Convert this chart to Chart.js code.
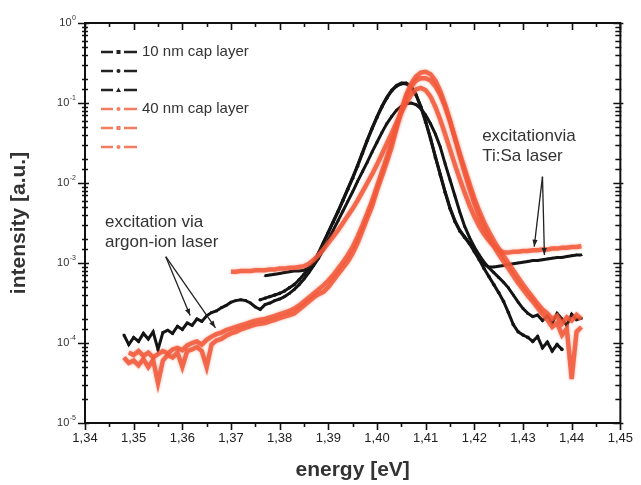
<!DOCTYPE html>
<html>
<head>
<meta charset="utf-8">
<script src="https://cdn.jsdelivr.net/npm/chart.js@4.4.0/dist/chart.umd.min.js"></script>
<style>
  html, body { margin: 0; background: #fff; }
</style>
</head>
<body>
<canvas id="pl" width="641" height="485"></canvas>
<script>
// photon energy grid (eV)
var energy = [1.348, 1.349,
  1.350, 1.351, 1.352, 1.353, 1.354, 1.355, 1.356, 1.357, 1.358, 1.359,
  1.360, 1.361, 1.362, 1.363, 1.364, 1.365, 1.366, 1.367, 1.368, 1.369,
  1.370, 1.371, 1.372, 1.373, 1.374, 1.375, 1.376, 1.377, 1.378, 1.379,
  1.380, 1.381, 1.382, 1.383, 1.384, 1.385, 1.386, 1.387, 1.388, 1.389,
  1.390, 1.391, 1.392, 1.393, 1.394, 1.395, 1.396, 1.397, 1.398, 1.399,
  1.400, 1.401, 1.402, 1.403, 1.404, 1.405, 1.406, 1.407, 1.408, 1.409,
  1.410, 1.411, 1.412, 1.413, 1.414, 1.415, 1.416, 1.417, 1.418, 1.419,
  1.420, 1.421, 1.422, 1.423, 1.424, 1.425, 1.426, 1.427, 1.428, 1.429,
  1.430, 1.431, 1.432, 1.433, 1.434, 1.435, 1.436, 1.437, 1.438, 1.439,
  1.440, 1.441, 1.442];

// log10 of the PL intensity on that grid, null = not measured
var cap10a = [-3.90, -4.02,
  -3.93, -3.98, -3.88, -3.95, -3.86, -4.08, -3.87, -3.84, -3.88, -3.79,
  -3.83, -3.75, -3.78, -3.70, -3.73, -3.66, -3.62, -3.60, -3.56, -3.53,
  -3.49, -3.47, -3.46, -3.47, -3.50, -3.55, -3.58, -3.52, -3.50, -3.47,
  -3.45, -3.42, -3.38, -3.33, -3.27, -3.20, -3.12, -3.03, -2.94, -2.83,
  -2.71, -2.59, -2.47, -2.35, -2.23, -2.11, -1.98, -1.86, -1.74, -1.61,
  -1.49, -1.37, -1.26, -1.17, -1.09, -1.04, -1.01, -1.00, -1.02, -1.07,
  -1.15, -1.26, -1.39, -1.55, -1.76, -1.96, -2.16, -2.36, -2.54, -2.68,
  -2.80, -2.90, -2.99, -3.06, -3.12, -3.18, -3.24, -3.31, -3.40, -3.49,
  -3.57, -3.63, -3.67, -3.65, -3.72, -3.66, -3.75, -3.63, -3.70, -3.78,
  -3.64, -3.71, -3.69];

var cap10b = [null, null,
  null, null, null, null, null, null, null, null, null, null,
  null, null, null, null, null, null, null, null, null, null,
  null, null, null, null, null, null, -3.46, -3.44, -3.42, -3.40,
  -3.38, -3.35, -3.31, -3.27, -3.21, -3.14, -3.07, -3.00, -2.88, -2.75,
  -2.62, -2.49, -2.36, -2.22, -2.08, -1.94, -1.79, -1.63, -1.47, -1.32,
  -1.18, -1.05, -0.94, -0.85, -0.79, -0.76, -0.76, -0.80, -0.90, -1.05,
  -1.24, -1.45, -1.68, -1.90, -2.12, -2.32, -2.48, -2.60, -2.68, -2.76,
  -2.86, -2.96, -3.07, -3.17, -3.27, -3.37, -3.48, -3.62, -3.77, -3.86,
  -3.90, -3.93, -3.98, -3.92, -4.06, -3.99, -4.10, -4.02, -4.08, null,
  null, null, null];

var cap10c = [null, null,
  null, null, null, null, null, null, null, null, null, null,
  null, null, null, null, null, null, null, null, null, null,
  null, null, null, null, null, null, null, -3.16, -3.15, -3.14,
  -3.13, -3.12, -3.11, -3.10, -3.10, -3.09, -3.06, -2.99, -2.87, -2.74,
  -2.61, -2.48, -2.35, -2.21, -2.07, -1.93, -1.78, -1.62, -1.46, -1.31,
  -1.17, -1.04, -0.93, -0.84, -0.78, -0.75, -0.75, -0.79, -0.89, -1.04,
  -1.23, -1.44, -1.67, -1.89, -2.11, -2.31, -2.47, -2.59, -2.67, -2.75,
  -2.84, -2.93, -3.02, -3.05, -3.05, -3.04, -3.03, -3.02, -3.01, -3.00,
  -2.99, -2.98, -2.97, -2.97, -2.96, -2.95, -2.94, -2.93, -2.93, -2.92,
  -2.91, -2.90, -2.90];

var cap40a = [-4.18, -4.25,
  -4.22, -4.28, -4.20, -4.30, -4.21, -4.50, -4.22, -4.15, -4.18, -4.12,
  -4.30, -4.10, -4.08, -4.05, -4.10, -4.30, -4.02, -3.97, -3.95, -3.91,
  -3.88, -3.86, -3.83, -3.81, -3.79, -3.77, -3.76, -3.75, -3.73, -3.71,
  -3.69, -3.67, -3.65, -3.63, -3.58, -3.53, -3.48, -3.43, -3.39, -3.36,
  -3.30, -3.22, -3.14, -3.06, -2.98, -2.88, -2.75, -2.60, -2.44, -2.29,
  -2.09, -1.92, -1.74, -1.55, -1.32, -1.10, -0.90, -0.76, -0.67, -0.62,
  -0.61, -0.64, -0.72, -0.85, -1.02, -1.22, -1.44, -1.66, -1.87, -2.07,
  -2.26, -2.42, -2.56, -2.68, -2.79, -2.89, -2.98, -3.07, -3.16, -3.25,
  -3.33, -3.41, -3.48, -3.56, -3.64, -3.71, -3.80, -3.75, -3.90, -3.82,
  -4.45, -3.86, -3.80];

var cap40b = [null, -4.12,
  -4.15, -4.10, -4.16, -4.12, -4.18, -4.14, -4.10, -4.13, -4.08, -4.06,
  -4.09, -4.03, -4.00, -3.98, -4.02, -3.96, -3.92, -3.89, -3.87, -3.84,
  -3.82, -3.80, -3.78, -3.76, -3.74, -3.72, -3.71, -3.70, -3.68, -3.66,
  -3.64, -3.62, -3.60, -3.57, -3.53, -3.48, -3.43, -3.38, -3.33, -3.28,
  -3.22, -3.15, -3.07, -2.99, -2.90, -2.80, -2.67, -2.53, -2.38, -2.22,
  -2.04, -1.86, -1.68, -1.49, -1.29, -1.09, -0.92, -0.80, -0.72, -0.69,
  -0.69, -0.72, -0.79, -0.90, -1.05, -1.23, -1.43, -1.63, -1.82, -2.01,
  -2.19, -2.35, -2.49, -2.61, -2.72, -2.82, -2.91, -3.00, -3.09, -3.18,
  -3.27, -3.35, -3.43, -3.51, -3.58, -3.63, -3.70, -3.66, -3.76, -3.68,
  -3.72, -3.65, -3.70];

var cap40c = [null, null,
  null, null, null, null, null, null, null, null, null, null,
  null, null, null, null, null, null, null, null, null, null,
  -3.11, -3.11, -3.10, -3.10, -3.10, -3.09, -3.09, -3.09, -3.08, -3.08,
  -3.07, -3.07, -3.06, -3.06, -3.05, -3.04, -3.01, -2.96, -2.90, -2.83,
  -2.75, -2.67, -2.59, -2.50, -2.41, -2.32, -2.22, -2.11, -2.00, -1.89,
  -1.77, -1.64, -1.51, -1.38, -1.25, -1.12, -1.00, -0.90, -0.83, -0.81,
  -0.84, -0.92, -1.05, -1.21, -1.39, -1.58, -1.77, -1.95, -2.12, -2.28,
  -2.42, -2.54, -2.64, -2.72, -2.79, -2.84, -2.87, -2.87, -2.86, -2.86,
  -2.85, -2.85, -2.84, -2.84, -2.83, -2.83, -2.82, -2.82, -2.81, -2.81,
  -2.80, -2.80, -2.79];

var legendText = ['10 nm cap layer', '', '', '40 nm cap layer', '', ''];

// labels with arrows; positions in (energy, intensity)
var argonNote = { text: ['excitation via', 'argon-ion laser'], at: [1.3441, 3.2e-3],
  from: [1.3566, 1.2e-3], to: [[1.3616, 2.2e-4], [1.3668, 1.55e-4]] };
var tisaNote = { text: ['excitationvia', 'Ti:Sa laser'], at: [1.4216, 3.8e-2],
  from: [1.434, 1.2e-2], to: [[1.4323, 1.6e-3], [1.4344, 1.26e-3]] };

var FONT = "'Liberation Sans', Arial, sans-serif";
var BLACK = '#141414';
var ORANGE = 'rgba(242, 88, 56, 0.85)';

function toPoints(logs) {
    var pts = [];
    for (var i = 0; i < energy.length; i++) {
        if (logs[i] !== null) pts.push({ x: energy[i], y: Math.pow(10, logs[i]) });
    }
    return pts;
}

function makeSet(logs, color, width, marker, dot, order) {
    return {
        data: toPoints(logs),
        borderColor: color,
        backgroundColor: color,
        borderWidth: width,
        pointRadius: dot,
        pointBorderWidth: 0,
        pointStyle: marker === 'rect' ? 'rect' : marker,
        tension: 0,
        marker: marker,
        order: order
    };
}

var datasets = [
    makeSet(cap10a, BLACK, 3, 'rect', 1.8, 2),
    makeSet(cap10b, BLACK, 3, 'circle', 1.8, 2),
    makeSet(cap10c, BLACK, 3, 'triangle', 1.8, 2),
    makeSet(cap40a, ORANGE, 4.5, 'circle', 0, 1),
    makeSet(cap40b, ORANGE, 4.5, 'rect', 0, 1),
    makeSet(cap40c, ORANGE, 4.5, 'circle', 0, 1)
];

function isDecade(v) {
    var l = Math.log10(v);
    return Math.abs(l - Math.round(l)) < 1e-6;
}

function drawMarker(ctx, kind, x, y, r) {
    ctx.beginPath();
    if (kind === 'rect') {
        ctx.rect(x - r, y - r, 2 * r, 2 * r);
    } else if (kind === 'triangle') {
        ctx.moveTo(x, y - r - 0.5);
        ctx.lineTo(x + r + 0.5, y + r);
        ctx.lineTo(x - r - 0.5, y + r);
        ctx.closePath();
    } else {
        ctx.arc(x, y, r, 0, Math.PI * 2);
    }
    ctx.fill();
}

function arrow(ctx, x0, y0, x1, y1) {
    ctx.beginPath();
    ctx.moveTo(x0, y0);
    ctx.lineTo(x1, y1);
    ctx.stroke();
    var ang = Math.atan2(y1 - y0, x1 - x0), L = 7, W = 2.6;
    ctx.beginPath();
    ctx.moveTo(x1, y1);
    ctx.lineTo(x1 - L * Math.cos(ang) + W * Math.sin(ang), y1 - L * Math.sin(ang) - W * Math.cos(ang));
    ctx.lineTo(x1 - L * Math.cos(ang) - W * Math.sin(ang), y1 - L * Math.sin(ang) + W * Math.cos(ang));
    ctx.closePath();
    ctx.fill();
}

// soft edge on the orange traces
var glow = {
    id: 'glow',
    beforeDatasetDraw: function(chart, args) {
        if (args.index < 3) return;
        chart.ctx.save();
        chart.ctx.shadowColor = 'rgba(240, 90, 60, 0.55)';
        chart.ctx.shadowBlur = 3;
    },
    afterDatasetDraw: function(chart, args) {
        if (args.index < 3) return;
        chart.ctx.restore();
    }
};

var frame = {
    id: 'frame',
    afterDraw: function(chart) {
        var ctx = chart.ctx, a = chart.chartArea, x = chart.scales.x, y = chart.scales.y;
        ctx.save();
        ctx.strokeStyle = '#111';
        ctx.fillStyle = '#111';

        // tick marks
        ctx.lineWidth = 1.6;
        ctx.beginPath();
        var xt = x.ticks.map(function(t) { return t.value; });
        xt.forEach(function(v, i) {
            var px = Math.round(x.getPixelForValue(v)) + 0.5;
            ctx.moveTo(px, a.bottom); ctx.lineTo(px, a.bottom + 7);
            ctx.moveTo(px, a.top); ctx.lineTo(px, a.top + 7);
            if (i < xt.length - 1) {
                var pm = Math.round(x.getPixelForValue((v + xt[i + 1]) / 2)) + 0.5;
                ctx.moveTo(pm, a.bottom); ctx.lineTo(pm, a.bottom + 4);
                ctx.moveTo(pm, a.top); ctx.lineTo(pm, a.top + 4);
            }
        });
        y.ticks.forEach(function(t) {
            var py = Math.round(y.getPixelForValue(t.value)) + 0.5;
            if (isDecade(t.value)) {
                ctx.moveTo(a.left - 7, py); ctx.lineTo(a.left + 4, py);
                ctx.moveTo(a.right - 7, py); ctx.lineTo(a.right + 3, py);
            } else {
                ctx.moveTo(a.left - 3, py); ctx.lineTo(a.left + 3, py);
                ctx.moveTo(a.right - 5, py); ctx.lineTo(a.right + 1, py);
            }
        });
        ctx.stroke();

        ctx.lineWidth = 2;
        ctx.strokeRect(a.left, a.top, a.right - a.left, a.bottom - a.top);

        // decade labels 10^n
        ctx.fillStyle = '#333';
        ctx.textBaseline = 'middle';
        y.ticks.forEach(function(t) {
            if (!isDecade(t.value)) return;
            var py = y.getPixelForValue(t.value);
            var n = Math.round(Math.log10(t.value));
            var exp = n === 0 ? '0' : '-' + (-n);
            ctx.font = '7px ' + FONT;
            ctx.textAlign = 'right';
            var right = a.left - 9;
            ctx.fillText(exp, right, py - 5);
            var ew = ctx.measureText(exp).width;
            ctx.font = '11px ' + FONT;
            ctx.fillText('10', right - ew - 0.5, py);
        });

        // legend
        var lx = a.left + 16, ly = a.top + 29;
        chart.data.datasets.forEach(function(ds, i) {
            var yy = ly + i * 19;
            var col = i < 3 ? '#222' : 'rgba(242, 110, 80, 0.9)';
            ctx.strokeStyle = col;
            ctx.fillStyle = col;
            ctx.lineWidth = 2.5;
            ctx.beginPath();
            ctx.moveTo(lx, yy); ctx.lineTo(lx + 12, yy);
            ctx.moveTo(lx + 23, yy); ctx.lineTo(lx + 36, yy);
            ctx.stroke();
            drawMarker(ctx, ds.marker, lx + 17.5, yy, 2);
            if (legendText[i]) {
                ctx.fillStyle = '#333';
                ctx.font = '15px ' + FONT;
                ctx.textAlign = 'left';
                ctx.fillText(legendText[i], lx + 41, yy);
            }
        });

        // annotations
        [argonNote, tisaNote].forEach(function(note) {
            var tx = x.getPixelForValue(note.at[0]), ty = y.getPixelForValue(note.at[1]);
            ctx.fillStyle = '#333';
            ctx.font = '17px ' + FONT;
            ctx.textAlign = 'left';
            note.text.forEach(function(s, k) { ctx.fillText(s, tx, ty + k * 20); });
            ctx.strokeStyle = '#222';
            ctx.fillStyle = '#222';
            ctx.lineWidth = 1.3;
            var fx = x.getPixelForValue(note.from[0]), fy = y.getPixelForValue(note.from[1]);
            note.to.forEach(function(p) {
                arrow(ctx, fx, fy, x.getPixelForValue(p[0]), y.getPixelForValue(p[1]));
            });
        });
        ctx.restore();
    }
};

new Chart(document.getElementById('pl'), {
    type: 'line',
    data: { datasets: datasets },
    options: {
        responsive: false,
        animation: false,
        devicePixelRatio: 1,
        layout: { padding: { top: 23, right: 14, left: 0, bottom: 0 } },
        plugins: { legend: { display: false }, tooltip: { enabled: false } },
        scales: {
            x: {
                type: 'linear',
                min: 1.34,
                max: 1.45,
                afterFit: function(s) { s.height = 62; },
                grid: { display: false, drawTicks: false },
                border: { display: false },
                ticks: {
                    stepSize: 0.01,
                    autoSkip: false,
                    maxRotation: 0,
                    padding: 8,
                    color: '#222',
                    font: { family: FONT, size: 13 },
                    callback: function(v) { return v.toFixed(2).replace('.', ','); }
                },
                title: {
                    display: true,
                    text: 'energy [eV]',
                    color: '#333',
                    font: { family: FONT, size: 21, weight: 'bold' },
                    padding: { top: 0, bottom: 2 }
                }
            },
            y: {
                type: 'logarithmic',
                min: 1e-5,
                max: 1,
                afterFit: function(s) { s.width = 85; },
                grid: { display: false, drawTicks: false },
                border: { display: false },
                ticks: { display: false },
                title: {
                    display: true,
                    text: 'intensity [a.u.]',
                    color: '#333',
                    font: { family: FONT, size: 21, weight: 'bold' },
                    padding: { top: 7, bottom: 0 }
                }
            }
        }
    },
    plugins: [glow, frame]
});
</script>
</body>
</html>
